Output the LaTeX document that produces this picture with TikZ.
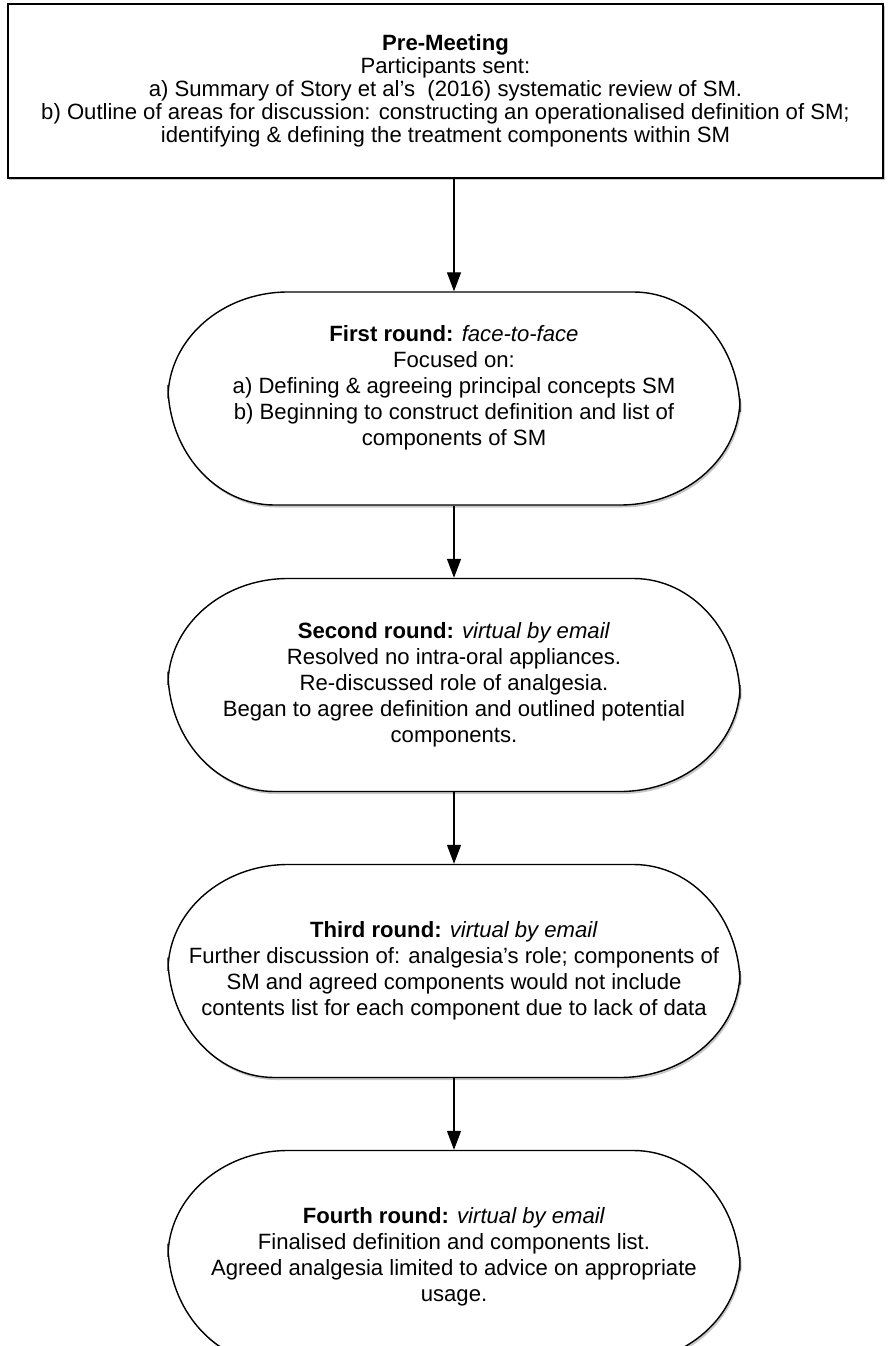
\documentclass[tikz,border=0pt]{standalone}
\usepackage{fontspec}
\setmainfont{Liberation Sans}
\usetikzlibrary{arrows.meta,positioning,shadows}
\tikzset{
  flow/.style={-{Triangle[length=19bp,width=14bp]}, line width=1.4bp, draw=black},
  soft shadow/.style={drop shadow={shadow xshift=1.5bp, shadow yshift=-2.5bp,
    opacity=0.22, fill=black}},
  meeting box/.style={draw=black, line width=1.4bp, fill=white, soft shadow,
    align=center, minimum width=875bp, minimum height=174bp, inner sep=0pt,
    font=\fontsize{22.2}{23}\selectfont},
  round box/.style={draw=black, line width=1.4bp, fill=white, soft shadow,
    align=center, minimum width=572bp, minimum height=213bp, inner sep=0pt,
    font=\fontsize{22.2}{26}\selectfont,
    /utils/exec={\pgfsetcornersarced{\pgfpoint{120bp}{106.4bp}}}}
}

\begin{document}
\begin{tikzpicture}[x=1bp,y=-1bp]
  \useasboundingbox[fill=white] (0,0) rectangle (887,1346);

  \node[meeting box] (pre) at (445.5,91) {\textbf{Pre-Meeting}\\
    Participants sent:\\
    a) Summary of Story et al's\ \ (2016) systematic review of SM.\\
    b) Outline of areas for discussion: constructing an operationalised definition of SM;\\
    identifying \& defining the treatment components within SM};

  \node[round box] (first) at (454,398.5) {\textbf{First round:} \textit{face-to-face}\\
    Focused on:\\
    a) Defining \& agreeing principal concepts SM\\
    b) Beginning to construct definition and list of\\
    components of SM\\};
  \node[round box] (second) at (454,685) {\textbf{Second round:} \textit{virtual by email}\\
    Resolved no intra-oral appliances.\\
    Re-discussed role of analgesia.\\
    Began to agree definition and outlined potential\\
    components.};
  \node[round box] (third) at (454,971) {\textbf{Third round:} \textit{virtual by email}\\
    Further discussion of: analgesia's role; components of\\
    SM and agreed components would not include\\
    contents list for each component due to lack of data};
  \node[round box] (fourth) at (454,1257) {\textbf{Fourth round:} \textit{virtual by email}\\
    Finalised definition and components list.\\
    Agreed analgesia limited to advice on appropriate\\
    usage.};

  \draw[flow] (pre.south -| first.north) -- (first.north);
  \draw[flow] (first) -- (second);
  \draw[flow] (second) -- (third);
  \draw[flow] (third) -- (fourth);
\end{tikzpicture}
\end{document}
